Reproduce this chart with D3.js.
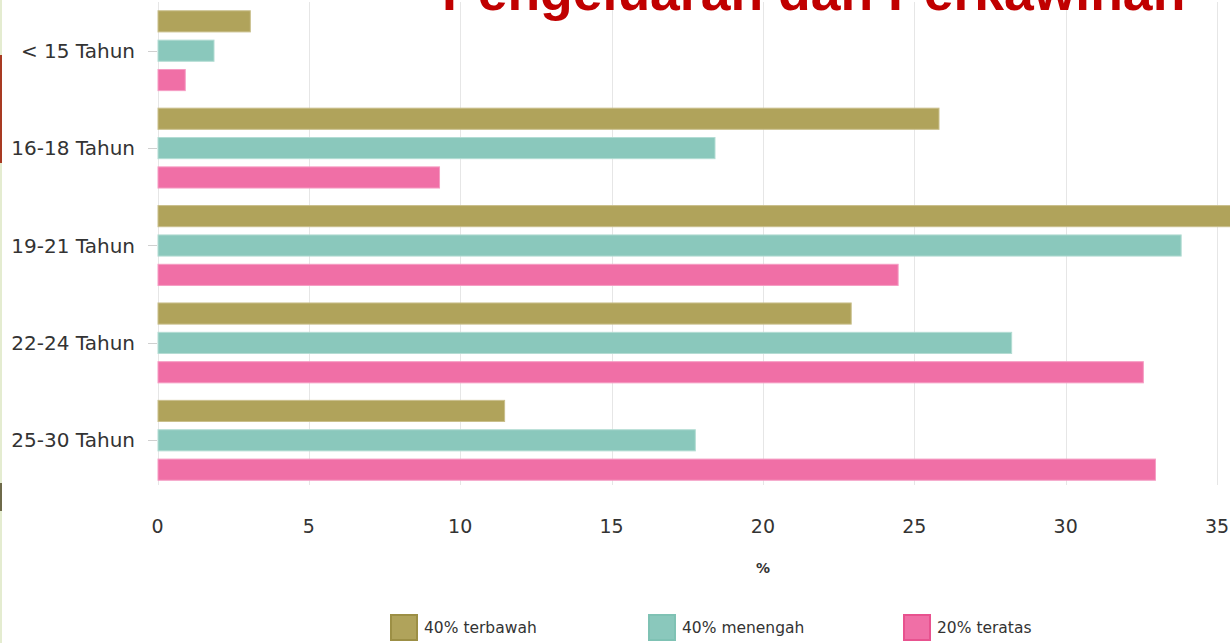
<!DOCTYPE html>
<html>
<head>
<meta charset="utf-8">
<script src="https://cdn.jsdelivr.net/npm/d3@7"></script>
<style>
  html, body { margin: 0; padding: 0; background: #fff; overflow: hidden; }
  svg { display: block; }
</style>
</head>
<body>
<div id="chart"></div>
<script>
const categories = ["< 15 Tahun", "16-18 Tahun", "19-21 Tahun", "22-24 Tahun", "25-30 Tahun"];
const seriesNames = ["40% terbawah", "40% menengah", "20% teratas"];
const bawah = [3.05, 25.8, 36.5, 22.9, 11.45];
const menengah = [1.85, 18.4, 33.8, 28.2, 17.75];
const teratas = [0.9, 9.3, 24.45, 32.55, 32.95];
const xTicks = [0, 5, 10, 15, 20, 25, 30, 35];
const colors = ["#b0a35b", "#8ac8bc", "#f06fa6"];
const strokes = ["#c9bf8c", "#b3dcd3", "#f59cc3"];
const legendBorders = ["#9c8f45", "#7fc2b4", "#e8528f"];

const width = 1230, height = 643;
const values = [bawah, menengah, teratas];

let svg = d3.select("#chart").append("svg")
  .attr("width", width)
  .attr("height", height);

// slide edge remnants on the left
svg.append("rect").attr("x", 0).attr("y", 0).attr("width", 2).attr("height", height).attr("fill", "#e4ecd0");
svg.append("rect").attr("x", 0).attr("y", 55).attr("width", 2).attr("height", 108).attr("fill", "#a83a22");
svg.append("rect").attr("x", 0).attr("y", 483).attr("width", 2).attr("height", 28).attr("fill", "#6e6a4a");

let x = d3.scaleLinear().domain([0, 35]).range([157.5, 1217]);
let y0 = d3.scaleBand().domain(categories).range([2, 489]).paddingInner(0.18).paddingOuter(0.09);
let y1 = d3.scaleBand().domain(seriesNames).range([0, y0.bandwidth()]).paddingInner(0.28);

// grid
svg.append("g").selectAll("line")
  .data(xTicks)
  .join("line")
  .attr("x1", d => Math.round(x(d)) + 0.5)
  .attr("x2", d => Math.round(x(d)) + 0.5)
  .attr("y1", 2)
  .attr("y2", 485)
  .attr("stroke", "#e6e6e6")
  .attr("stroke-width", 1);

// bars
let groups = svg.append("g").selectAll("g")
  .data(categories)
  .join("g")
  .attr("transform", d => "translate(0," + y0(d) + ")");

groups.selectAll("rect")
  .data((d, i) => seriesNames.map((s, j) => ({ s: s, j: j, v: values[j][i] })))
  .join("rect")
  .attr("x", x(0) + 0.5)
  .attr("y", d => y1(d.s))
  .attr("width", d => x(d.v) - x(0))
  .attr("height", y1.bandwidth())
  .attr("fill", d => colors[d.j])
  .attr("stroke", d => strokes[d.j])
  .attr("stroke-width", 1);

// y axis labels + ticks
let yAxis = svg.append("g");
yAxis.selectAll("line")
  .data(categories)
  .join("line")
  .attr("x1", 148)
  .attr("x2", 157)
  .attr("y1", d => Math.round(y0(d) + y0.bandwidth() / 2) + 0.5)
  .attr("y2", d => Math.round(y0(d) + y0.bandwidth() / 2) + 0.5)
  .attr("stroke", "#d0d0d0");
yAxis.selectAll("text")
  .data(categories)
  .join("text")
  .text(d => d)
  .attr("x", 135)
  .attr("y", d => y0(d) + y0.bandwidth() / 2)
  .attr("dy", "0.35em")
  .attr("text-anchor", "end")
  .attr("font-family", "DejaVu Sans, Verdana, sans-serif")
  .attr("font-size", "20px")
  .attr("fill", "#333");

// x axis labels
svg.append("g").selectAll("text")
  .data(xTicks)
  .join("text")
  .text(d => d)
  .attr("x", d => x(d))
  .attr("y", 526)
  .attr("dy", "0.35em")
  .attr("text-anchor", "middle")
  .attr("font-family", "DejaVu Sans, Verdana, sans-serif")
  .attr("font-size", "19px")
  .attr("fill", "#333");

svg.append("text")
  .text("%")
  .attr("x", 763)
  .attr("y", 568)
  .attr("dy", "0.35em")
  .attr("text-anchor", "middle")
  .attr("font-family", "DejaVu Sans, Verdana, sans-serif")
  .attr("font-size", "14px")
  .attr("font-weight", "bold")
  .attr("fill", "#333");

// legend
let legendX = [390, 648, 903];
let legend = svg.append("g").selectAll("g")
  .data(seriesNames)
  .join("g")
  .attr("transform", (d, i) => "translate(" + legendX[i] + ",614)");
legend.append("rect")
  .attr("x", 1).attr("y", 1)
  .attr("width", 26).attr("height", 25)
  .attr("fill", (d, i) => colors[i])
  .attr("stroke", (d, i) => legendBorders[i])
  .attr("stroke-width", 2);
legend.append("text")
  .text(d => d)
  .attr("x", 34)
  .attr("y", 14)
  .attr("dy", "0.35em")
  .attr("font-family", "DejaVu Sans, Verdana, sans-serif")
  .attr("font-size", "15.5px")
  .attr("fill", "#333");

// title (cut off at top of screenshot)
svg.append("text")
  .text("Pengeluaran dan Perkawinan")
  .attr("x", 442)
  .attr("y", 10)
  .attr("font-family", "Liberation Sans, Arial, sans-serif")
  .attr("font-weight", "bold")
  .attr("font-size", "53.5px")
  .attr("fill", "#c00000");
</script>
</body>
</html>
